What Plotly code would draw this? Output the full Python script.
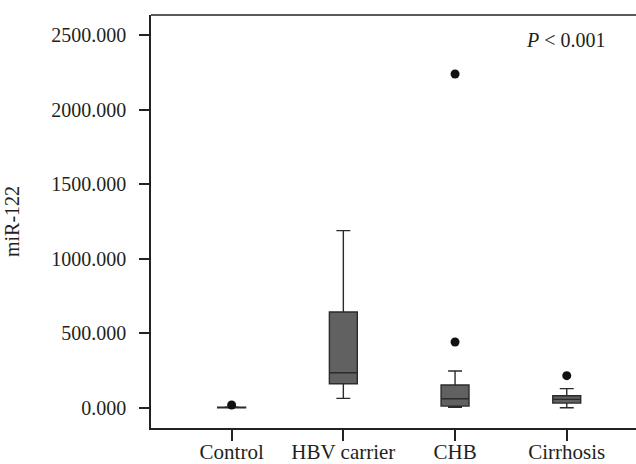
import plotly.graph_objects as go

categories = ["Control", "HBV carrier", "CHB", "Cirrhosis"]
lower_whisker = [0, 63, 3, 0]
q1_vals = [0, 161, 11, 31]
median_vals = [2, 235, 60, 56]
q3_vals = [4, 642, 152, 80]
upper_whisker = [5, 1188, 246, 128]
outlier_group = [0, 2, 2, 3]
outlier_vals = [18, 2238, 441, 215]
y_ticks = [0, 500, 1000, 1500, 2000, 2500]
y_tick_labels = ["0.000", "500.000", "1000.000", "1500.000", "2000.000", "2500.000"]

FONT = "Liberation Serif"
TXT = "#231f20"
pos = list(range(len(categories)))

fig = go.Figure()
fig.add_trace(go.Box(
    x=pos, q1=q1_vals, median=median_vals, q3=q3_vals,
    lowerfence=lower_whisker, upperfence=upper_whisker,
    fillcolor="#616161", line=dict(color="#2b2b2b", width=1.4),
    width=0.25, whiskerwidth=0.5, boxpoints=False, showlegend=False,
    hoverinfo="skip",
))
fig.add_trace(go.Scatter(
    x=outlier_group, y=outlier_vals, mode="markers",
    marker=dict(color="#111111", size=9), showlegend=False, hoverinfo="skip",
))

fig.update_layout(
    width=636, height=464,
    margin=dict(l=151, r=0, t=15, b=36),
    paper_bgcolor="white", plot_bgcolor="white",
    font=dict(family=FONT, size=20, color=TXT),
    xaxis=dict(
        range=[-0.722, 3.62], tickvals=pos, ticktext=categories,
        showline=True, mirror=False, linecolor="#222", linewidth=1.5,
        ticks="outside", ticklen=11, tickwidth=1.5, tickcolor="#222",
        showgrid=False, zeroline=False, tickfont=dict(size=21),
        ticklabelstandoff=-7, automargin=False,
    ),
    yaxis=dict(
        range=[-136, 2634], tickvals=y_ticks, ticktext=y_tick_labels,
        showline=True, mirror=False, linecolor="#222", linewidth=1.5,
        ticks="outside", ticklen=10, tickwidth=1.5, tickcolor="#222",
        showgrid=False, zeroline=False, tickfont=dict(size=20),
        ticklabelstandoff=9, automargin=False,
        title=dict(text="miR-122", font=dict(size=20), standoff=26),
    ),
    shapes=[dict(type="line", xref="paper", yref="paper", x0=0, x1=1.05, y0=1, y1=1,
                 line=dict(color="#222", width=1.5))],
    annotations=[dict(
        text="<i>P</i> < 0.001", x=0.856, y=0.94, xref="paper", yref="paper",
        xanchor="center", yanchor="middle",
        showarrow=False, font=dict(size=20, family=FONT, color=TXT),
    )],
)

fig.write_html("out.html", config={"displayModeBar": False})
